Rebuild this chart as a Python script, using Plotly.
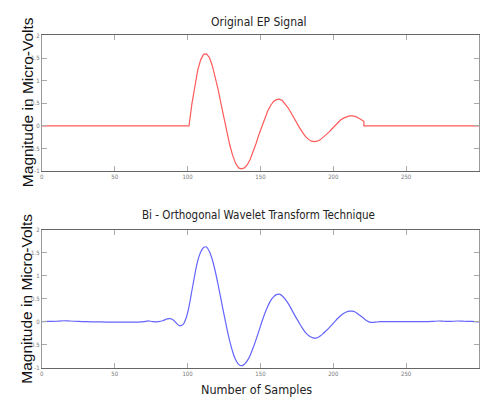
import plotly.graph_objects as go

# ---- data ----
orig_x = [0, 101, 103, 105, 107, 109, 111, 113, 115, 117, 119, 121, 123, 125, 127, 129,
          131, 133, 135, 137, 139, 141, 143, 145, 147, 149, 151, 153, 155, 157, 159,
          161, 163, 165, 167, 169, 171, 173, 175, 177, 179, 181, 183, 185, 187, 189,
          191, 193, 195, 197, 199, 201, 203, 205, 207, 209, 211, 213, 215, 217, 219,
          221, 221, 300]
orig_y = [0, 0, 0.49, 0.91, 1.24, 1.46, 1.58, 1.59, 1.51, 1.33, 1.09, 0.80, 0.48, 0.16,
          -0.15, -0.43, -0.66, -0.83, -0.93, -0.95, -0.93, -0.86, -0.74, -0.58, -0.39,
          -0.19, 0.0, 0.18, 0.33, 0.45, 0.54, 0.58, 0.59, 0.56, 0.49, 0.40, 0.29, 0.17,
          0.06, -0.05, -0.15, -0.24, -0.30, -0.34, -0.35, -0.34, -0.31, -0.26, -0.20,
          -0.14, -0.07, 0.0, 0.07, 0.13, 0.17, 0.20, 0.22, 0.22, 0.21, 0.18, 0.14,
          0.10, 0.0, 0.0]

bio_x = [0, 5, 10, 15, 19, 25, 30, 40, 50, 60, 66, 70, 73, 76, 80, 83, 86, 88, 90, 92,
         94, 95, 97, 99, 101, 103, 105, 107, 109, 111, 113, 115, 117, 119, 121, 123,
         125, 127, 129, 131, 133, 135, 137, 139, 141, 143, 145, 147, 149, 151, 153,
         155, 157, 159, 161, 163, 165, 167, 169, 171, 173, 175, 177, 179, 181, 183,
         185, 187, 189, 191, 193, 195, 197, 199, 201, 203, 205, 207, 209, 211, 213,
         215, 217, 219, 221, 223, 225, 227, 229, 232, 240, 250, 260, 268, 272, 276,
         280, 285, 290, 295, 300]
bio_y = [0.0, 0.005, 0.01, 0.02, 0.015, 0.005, 0.0, -0.005, -0.01, -0.01, -0.01, 0.0,
         0.02, 0.0, 0.0, 0.02, 0.06, 0.065, 0.04, -0.02, -0.08, -0.09, -0.06, 0.08,
         0.33, 0.68, 1.03, 1.33, 1.52, 1.62, 1.63, 1.53, 1.35, 1.10, 0.80, 0.48, 0.16,
         -0.15, -0.43, -0.66, -0.83, -0.93, -0.96, -0.93, -0.85, -0.73, -0.57, -0.39,
         -0.20, 0.0, 0.18, 0.33, 0.46, 0.54, 0.59, 0.60, 0.56, 0.49, 0.40, 0.29, 0.17,
         0.06, -0.05, -0.15, -0.24, -0.30, -0.34, -0.36, -0.35, -0.31, -0.26, -0.20,
         -0.14, -0.07, 0.0, 0.07, 0.13, 0.18, 0.21, 0.23, 0.23, 0.21, 0.17, 0.12, 0.07,
         0.02, -0.01, -0.015, -0.01, 0.0, 0.0, 0.0, 0.0, 0.005, 0.015, 0.01, 0.005,
         0.015, 0.01, 0.005, -0.005]

x_ticks = [0, 50, 100, 150, 200, 250, 300]
x_tick_labels = ["0", "50", "100", "150", "200", "250", "300"]
y_ticks = [-1, -0.5, 0, 0.5, 1, 1.5, 2]
y_tick_labels = ["-1", "-0.5", "0", "0.5", "1", "1.5", "2"]

titles = ["Original EP Signal", "Bi - Orthogonal Wavelet Transform Technique"]
y_title = "Magnitude in Micro-Volts"
x_title = "Number of Samples"

W, H = 481, 401
NARROW = "DejaVu Sans Condensed, Liberation Sans Narrow, sans-serif"

fig = go.Figure()
fig.add_trace(go.Scatter(x=orig_x, y=orig_y, mode="lines",
                         line=dict(color="#ff5a5a", width=1.2),
                         xaxis="x", yaxis="y", showlegend=False))
fig.add_trace(go.Scatter(x=bio_x, y=bio_y, mode="lines",
                         line=dict(color="#6464ff", width=1.2, shape="spline", smoothing=0.6),
                         xaxis="x2", yaxis="y2", showlegend=False))

xdom = [40 / W, 479 / W]
top_dom = [1 - 170 / H, 1 - 32 / H]
bot_dom = [1 - 370 / H, 1 - 230 / H]

common_x = dict(range=[0, 300], tickvals=x_ticks, ticktext=x_tick_labels,
                ticks="inside", ticklen=5, tickcolor="#aaaaaa", tickwidth=1,
                showline=True, linecolor="#666666", linewidth=1, mirror="ticks",
                showgrid=False, zeroline=False,
                tickfont=dict(size=6, color="#777777", family=NARROW), domain=xdom)
common_y = dict(range=[-1, 2], tickvals=y_ticks, ticktext=y_tick_labels,
                ticks="inside", ticklen=5, tickcolor="#aaaaaa", tickwidth=1,
                showline=True, linecolor="#999999", linewidth=1, mirror="ticks",
                showgrid=False, zeroline=False,
                tickfont=dict(size=6, color="#777777", family=NARROW))

fig.update_layout(
    width=W, height=H, margin=dict(l=0, r=0, t=0, b=0),
    paper_bgcolor="white", plot_bgcolor="white",
    xaxis=dict(**common_x, anchor="y"),
    yaxis=dict(**common_y, domain=top_dom, anchor="x"),
    xaxis2=dict(**common_x, anchor="y2"),
    yaxis2=dict(**common_y, domain=bot_dom, anchor="x2"),
)

ann = []
ann.append(dict(text=titles[0], x=258 / W, y=1 - 18 / H, xref="paper", yref="paper",
                showarrow=False, font=dict(family=NARROW, size=12, color="#222222"),
                xanchor="center", yanchor="middle"))
ann.append(dict(text=titles[1], x=258 / W, y=1 - 215 / H, xref="paper", yref="paper",
                showarrow=False, font=dict(family=NARROW, size=11.5, color="#222222"),
                xanchor="center", yanchor="middle"))
ann.append(dict(text=x_title, x=256 / W, y=1 - 392 / H, xref="paper", yref="paper",
                showarrow=False, font=dict(family=NARROW, size=12.5, color="#222222"),
                xanchor="center", yanchor="middle"))
for yc in (100, 300):
    ann.append(dict(text=y_title, x=25 / W, y=1 - yc / H, xref="paper", yref="paper",
                    showarrow=False, textangle=-90,
                    font=dict(family="Liberation Sans, Arial, sans-serif", size=15.5, color="#111111"),
                    xanchor="center", yanchor="middle"))
fig.update_layout(annotations=ann)

fig.write_html("out.html")
